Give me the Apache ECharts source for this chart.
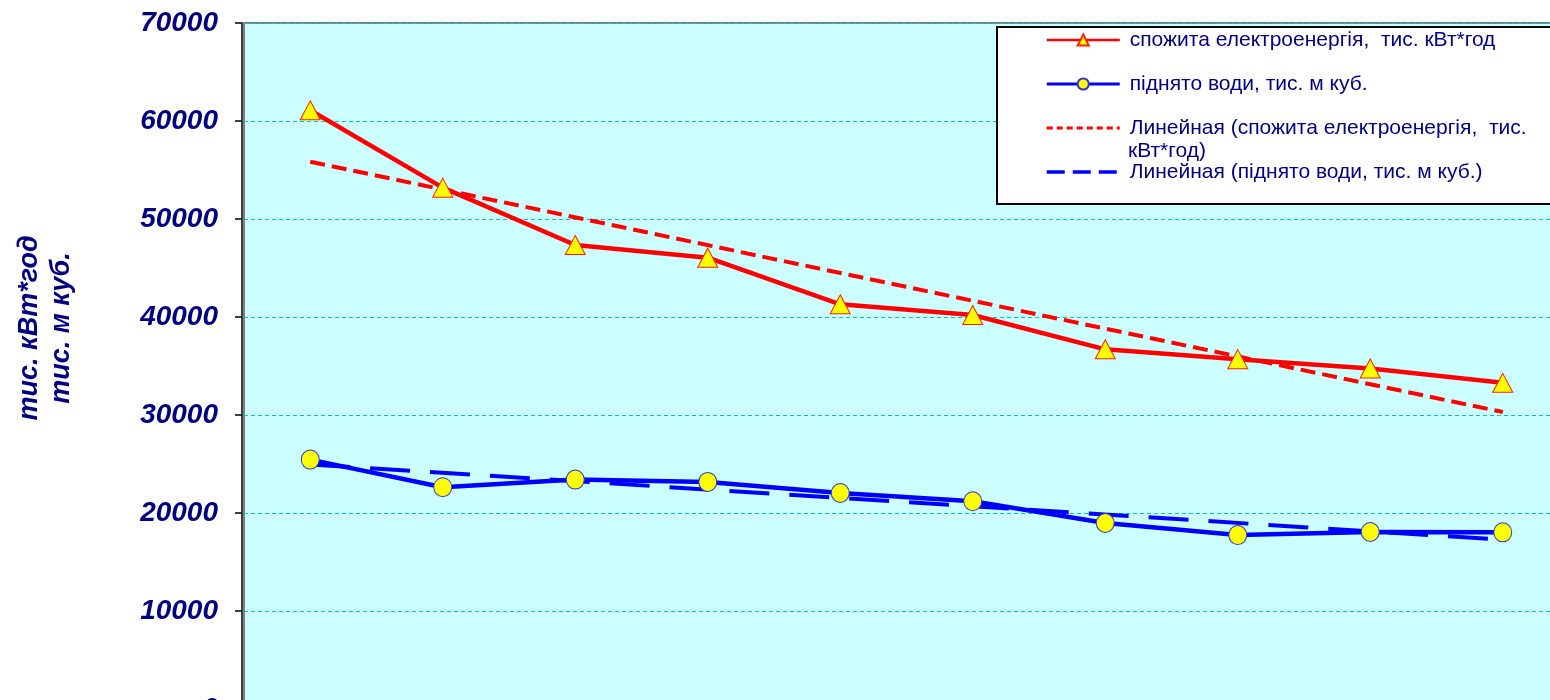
<!DOCTYPE html>
<html><head><meta charset="utf-8">
<script src="https://cdn.jsdelivr.net/npm/echarts@6/dist/echarts.min.js"></script>
<style>html,body{margin:0;padding:0;background:#fff}#c{width:1550px;height:700px}</style>
</head><body><div id="c"></div>
<script>
const categories = ['1','2','3','4','5','6','7','8','9','10'];
const electricity = [61100, 53200, 47350, 46050, 41300, 40200, 36700, 35700, 34750, 33280];
const water = [25450, 22630, 23410, 23170, 22040, 21200, 18980, 17750, 18060, 18030];
const electricityTrend = [55850, null, null, null, null, null, null, null, null, 30300];
const waterTrend = [24950, null, null, null, null, null, null, null, null, 17280];
const yTicks = [0, 10000, 20000, 30000, 40000, 50000, 60000, 70000];
const seriesNames = [
  'спожита електроенергія,  тис. кВт*год',
  'піднято води, тис. м куб.',
  'Линейная (спожита електроенергія,  тис. кВт*год)',
  'Линейная (піднято води, тис. м куб.)'
];
const legendFirstLine = 'Линейная (спожита електроенергія,  тис.';
const legendSecondLine = 'кВт*год)';
const yTitle = 'тис. кВт*год\nтис. м куб.';

const navy = '#000080';
const chart = echarts.init(document.getElementById('c'));
chart.setOption({
  animation: false,
  backgroundColor: '#ffffff',
  grid: {
    left: 244, top: 23, width: 1325, height: 686,
    outerBoundsMode: 'none', containLabel: false,
    show: true, backgroundColor: '#CCFFFF', borderColor: '#808080', borderWidth: 2
  },
  xAxis: {
    type: 'category', data: categories, boundaryGap: true,
    axisLabel: { show: false }, axisTick: { show: false },
    axisLine: { lineStyle: { color: '#000' } }
  },
  yAxis: {
    type: 'value', min: yTicks[0], max: yTicks[yTicks.length - 1],
    interval: yTicks[1] - yTicks[0], offset: 2,
    axisLine: { show: true, lineStyle: { color: '#000', width: 1.5 } },
    axisTick: { show: true, length: 7, lineStyle: { color: '#000', width: 1.5 } },
    axisLabel: {
      margin: 24, color: navy, fontFamily: 'Liberation Sans', fontSize: 28,
      fontWeight: 'bold', fontStyle: 'italic', formatter: v => String(v)
    },
    splitLine: { show: true, lineStyle: { color: '#00C4C4', width: 1.2, type: [4, 3] } }
  },
  legend: {
    orient: 'vertical', left: 1045, top: 29, padding: 0, itemGap: 22,
    itemWidth: 73, itemHeight: 14, z: 20,
    textStyle: { color: navy, fontFamily: 'Liberation Sans', fontSize: 21, lineHeight: 22, padding: [0, 0, 0, 5] },
    formatter: name => name === seriesNames[2] ? legendFirstLine : name,
    data: [
      { name: seriesNames[0], lineStyle: { width: 2.5 } },
      { name: seriesNames[1], lineStyle: { width: 3 } },
      { name: seriesNames[2], lineStyle: { width: 3, type: [6, 4] }, itemStyle: { opacity: 0 } },
      { name: seriesNames[3], lineStyle: { width: 3.5, type: [18, 8] }, itemStyle: { opacity: 0 } }
    ]
  },
  graphic: [
    { type: 'rect', z: 15, shape: { x: 997, y: 27, width: 620, height: 177 },
      style: { fill: '#ffffff', stroke: '#000000', lineWidth: 2 } },
    { type: 'text', z: 21, x: 1128, y: 151,
      style: { text: legendSecondLine, fill: navy, font: '21px "Liberation Sans"', textVerticalAlign: 'middle' } },
    { type: 'text', z: 21, x: 46, y: 328, rotation: Math.PI / 2,
      style: { text: yTitle, fill: navy, font: 'italic bold 27px "Liberation Sans"', lineHeight: 32,
        textAlign: 'center', textVerticalAlign: 'middle' } }
  ],
  series: [
    { name: seriesNames[0], type: 'line', data: electricity,
      lineStyle: { color: '#FF0000', width: 4.5 },
      symbol: 'triangle', symbolSize: [20, 19],
      itemStyle: { color: '#FFFF00', borderColor: '#FF2200', borderWidth: 1 } },
    { name: seriesNames[1], type: 'line', data: water,
      lineStyle: { color: '#0000FF', width: 4.5 },
      symbol: 'circle', symbolSize: [18, 19],
      itemStyle: { color: '#FFFF00', borderColor: '#3333CC', borderWidth: 1 } },
    { name: seriesNames[2], type: 'line', data: electricityTrend, connectNulls: true,
      symbol: 'none', lineStyle: { color: '#FF0000', width: 4, type: [15, 7] },
      itemStyle: { color: '#FF0000' } },
    { name: seriesNames[3], type: 'line', data: waterTrend, connectNulls: true,
      symbol: 'none', lineStyle: { color: '#0000FF', width: 4, type: [40, 20] },
      itemStyle: { color: '#0000FF' } }
  ]
});
</script></body></html>
